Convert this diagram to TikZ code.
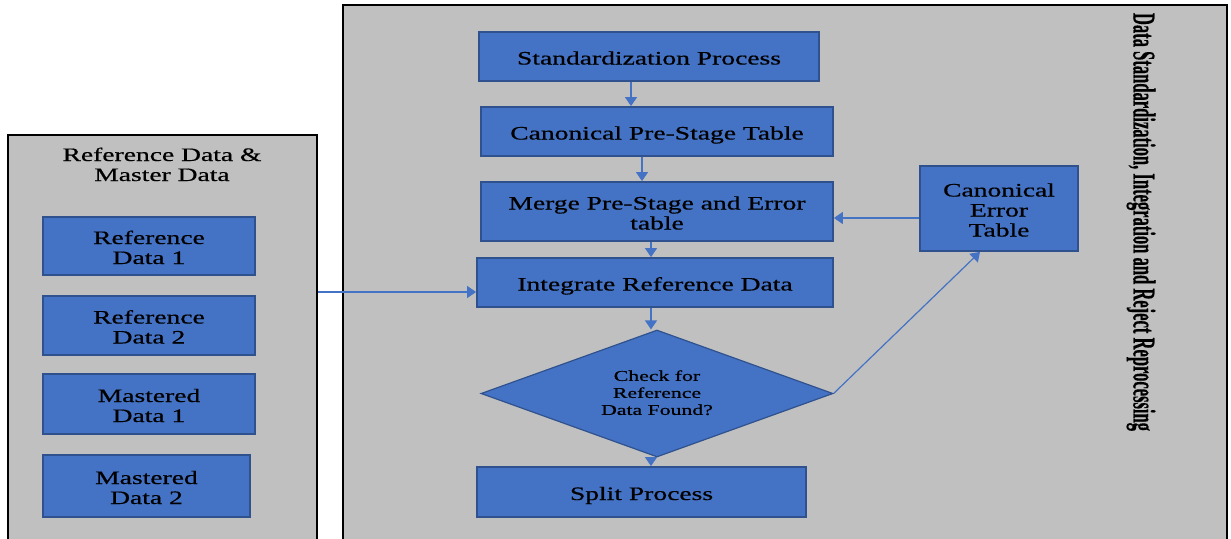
\documentclass[tikz,border=0pt]{standalone}
\usepackage{graphicx}
\usepackage{fontspec}
\setmainfont{Liberation Serif}[FakeBold=0.5]
\usetikzlibrary{arrows.meta,shapes.geometric}
\definecolor{boxblue}{HTML}{4472C4}
\definecolor{boxedge}{HTML}{2F528F}
\definecolor{panelgray}{HTML}{C0C0C0}
\newcommand{\wtxt}[2][-4pt]{\raisebox{#1}[\height][\depth]{\scalebox{1.45}[1]{\begin{tabular}{@{}c@{}}#2\end{tabular}}}}
\tikzset{
  panel/.style={rectangle, draw=black, line width=2.5pt, fill=panelgray, inner sep=0pt},
  blk/.style={rectangle, draw=boxedge, line width=1.8pt, fill=boxblue, inner sep=0pt, text=black, font=\fontsize{19}{20}\selectfont},
  arr/.style={draw=boxblue, line width=1.2pt, -{Triangle[length=9pt,width=12pt]}}
}
\begin{document}
\begin{tikzpicture}[x=1pt,y=-1pt]
\useasboundingbox (0,0) rectangle (1231,538);
\clip (0,0) rectangle (1231,538);
\fill[white] (0,0) rectangle (1231,538);
% panels
\node[panel, minimum width=309, minimum height=413] (leftpanel) at (162.5,341.5) {};
\node[panel, line width=2pt, minimum width=884, minimum height=543] (rightpanel) at (785,276.5) {};
\node[font=\fontsize{19}{20}\selectfont, inner sep=0pt] (lptitle) at (162,163) {\wtxt{Reference Data \&\\Master Data}};
\node[rotate=-90, inner sep=0pt] (vtitle) at (1141,222) {\resizebox{418pt}{22pt}{\bfseries Data Standardization, Integration and Reject Reprocessing}};
% left boxes
\node[blk, minimum width=212, minimum height=58] (ref1) at (149,246) {\wtxt{Reference\\Data 1}};
\node[blk, minimum width=212, minimum height=59] (ref2) at (149,325.5) {\wtxt{Reference\\Data 2}};
\node[blk, minimum width=212, minimum height=60] (mast1) at (149,404) {\wtxt{Mastered\\Data 1}};
\node[blk, minimum width=207, minimum height=62] (mast2) at (146.5,486) {\wtxt{Mastered\\Data 2}};
% main flow
\node[blk, minimum width=340, minimum height=49] (std) at (649,56.5) {\wtxt{Standardization Process}};
\node[blk, minimum width=352, minimum height=49] (canon) at (657,131.5) {\wtxt{Canonical Pre-Stage Table}};
\node[blk, minimum width=352, minimum height=59] (merge) at (657,211.5) {\wtxt{Merge Pre-Stage and Error\\table}};
\node[blk, minimum width=356, minimum height=49] (integ) at (655,282.5) {\wtxt{Integrate Reference Data}};
\node[blk, shape=diamond, shape aspect=2.77, line width=1.2pt, minimum width=352, minimum height=127, font=\fontsize{15}{17}\selectfont] (check) at (657,393.5) {\wtxt[-1pt]{Check for\\Reference\\Data Found?}};
\node[blk, minimum width=329, minimum height=50] (split) at (641.5,492) {\wtxt{Split Process}};
\node[blk, minimum width=158, minimum height=85] (err) at (999,208.5) {\wtxt{Canonical\\Error\\Table}};
% helper coordinates
\coordinate (xa) at (631,0);
\coordinate (xb) at (642,0);
\coordinate (xc) at (651,0);
\coordinate (xd) at (980,0);
\coordinate (ya) at (0,218);
\coordinate (yb) at (0,292);
% connectors
\draw[arr] (xa |- std.south) -- (xa |- canon.north);
\draw[arr] (xb |- canon.south) -- (xb |- merge.north);
\draw[arr] (xc |- merge.south) -- (xc |- integ.north);
\draw[arr] (xc |- integ.south) -- (xc |- check.north);
\draw[arr] (xc |- check.south) -- (xc |- split.north);
\draw[arr] (err.west |- ya) -- (merge.east |- ya);
\draw[arr] (check.east) -- (xd |- err.south);
\draw[arr] (leftpanel.east |- yb) -- (integ.west |- yb);
\end{tikzpicture}
\end{document}
